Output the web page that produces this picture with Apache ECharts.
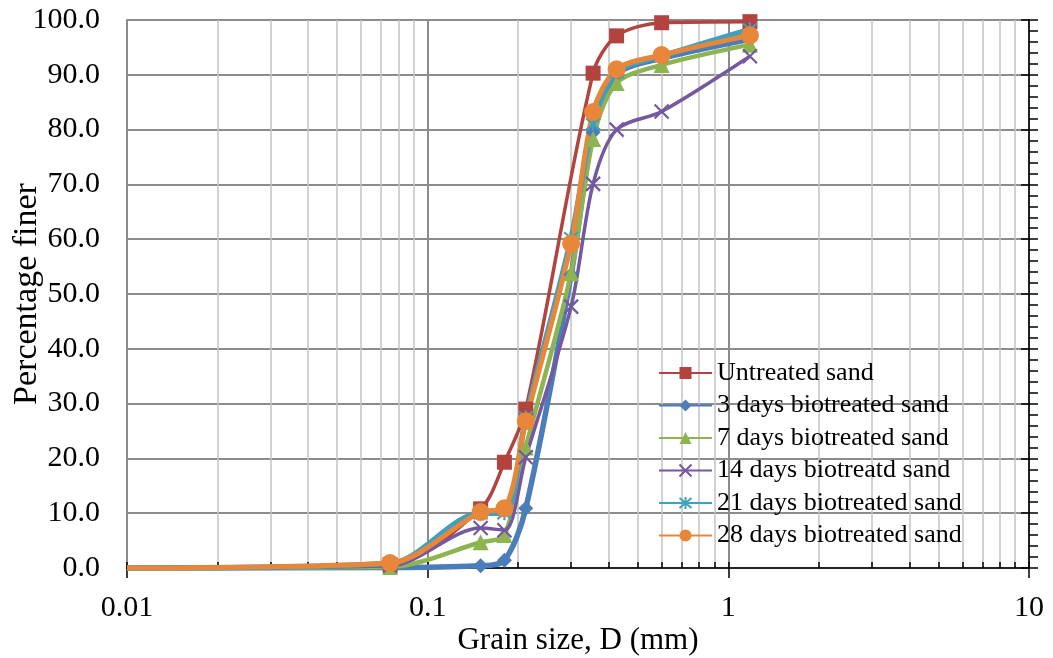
<!DOCTYPE html>
<html>
<head>
<meta charset="utf-8">
<title>Grain size distribution</title>
<script src="https://cdn.jsdelivr.net/npm/echarts@6/dist/echarts.min.js"></script>
<style>
  html, body { margin: 0; padding: 0; background: #fff; }
  #chart { width: 1053px; height: 658px; }
</style>
</head>
<body>
<div id="chart"></div>
<script>
// Sieve openings (mm) and percentage passing for each sample
const sieveSizes = [0.01, 0.075, 0.15, 0.18, 0.212, 0.3, 0.355, 0.425, 0.6, 1.18];
const untreated = [0, 0.6, 10.8, 19.3, 29.0, null, 90.3, 97.1, 99.5, 99.7];
const days3 = [0, 0.1, 0.4, 1.4, 10.9, 53.5, 79.5, 90.0, 93.0, 96.5];
const days7 = [0, 0.2, 4.7, 6.0, 22.0, 53.8, 78.3, 88.5, 91.8, 95.5];
const days14 = [0, 0.4, 7.3, 6.9, 20.2, 47.7, 70.1, 80.0, 83.3, 93.4];
const days21 = [0, 0.8, 10.0, 10.0, 27.5, 60.2, 81.0, 90.5, 93.4, 98.3];
const days28 = [0, 0.9, 10.2, 10.9, 26.8, 59.2, 83.2, 91.0, 93.6, 97.2];

const seriesNames = [
  'Untreated sand',
  '3 days biotreated sand',
  '7 days biotreated sand',
  '14 days biotreatd sand',
  '21 days biotreated sand',
  '28 days biotreated sand'
];

// Axis tick values
const decadeTicks = [0.01, 0.1, 1, 10];
const minorTicks = [];
[0.01, 0.1, 1].forEach(function (d) {
  for (let k = 2; k <= 9; k++) minorTicks.push(+(d * k).toPrecision(3));
});

const FONT = "'Liberation Serif', 'Times New Roman', serif";
const MAJOR_GRID = '#8c8c8c';
const MINOR_GRID = '#c3c3c3';

function pairs(values) {
  const out = [];
  values.forEach(function (v, i) {
    if (v === null) return;
    const item = { value: [sieveSizes[i], v] };
    if (i === 0) item.symbol = 'none';
    out.push(item);
  });
  return out;
}

const X_PATH = 'path://M0,0L10,10M10,0L0,10';
const STAR_PATH = 'path://M0,0L10,10M10,0L0,10M5,-1L5,11';

const styles = [
  { color: '#b3433f', width: 3.5, symbol: 'rect', size: 15 },
  { color: '#4a7dba', width: 5.5, symbol: 'diamond', size: 15 },
  { color: '#8db450', width: 4.5, symbol: 'triangle', size: 16 },
  { color: '#7458a0', width: 3.5, symbol: X_PATH, size: 14, stroke: 2.2 },
  { color: '#40a0c0', width: 5.5, symbol: STAR_PATH, size: 14, stroke: 2.2 },
  { color: '#e8873a', width: 5, symbol: 'circle', size: 18 }
];
const valueSets = [untreated, days3, days7, days14, days21, days28];

const series = valueSets.map(function (vals, i) {
  const s = styles[i];
  const itemStyle = { color: s.color };
  if (s.stroke) {
    itemStyle.borderColor = s.color;
    itemStyle.borderWidth = s.stroke;
  }
  return {
    name: seriesNames[i],
    type: 'line',
    xAxisIndex: 0,
    yAxisIndex: 0,
    smooth: 0.3,
    data: pairs(vals),
    symbol: s.symbol,
    symbolSize: s.size,
    showSymbol: true,
    lineStyle: { color: s.color, width: s.width },
    itemStyle: itemStyle,
    emphasis: { disabled: true },
    animation: false,
    clip: false
  };
});

const chart = echarts.init(document.getElementById('chart'), null, { renderer: 'canvas' });

chart.setOption({
  backgroundColor: '#ffffff',
  animation: false,
  textStyle: { fontFamily: FONT, color: '#000' },
  grid: {
    left: 127, right: 24, top: 20, bottom: 90,
    containLabel: false, outerBoundsMode: 'none'
  },
  legend: {
    orient: 'vertical',
    left: 653,
    top: 355,
    itemWidth: 53,
    itemHeight: 15,
    itemGap: 6.5,
    data: seriesNames,
    textStyle: { fontFamily: FONT, fontSize: 26, color: '#000', padding: [0, 0, 0, 0] },
    selectedMode: false
  },
  xAxis: [
    {
      type: 'log', logBase: 10, min: 0.01, max: 10,
      position: 'bottom',
      name: 'Grain size, D (mm)',
      nameLocation: 'middle',
      nameGap: 57,
      nameMoveOverlap: false,
      nameTextStyle: { fontFamily: FONT, fontSize: 31, color: '#000' },
      axisLine: { show: true, lineStyle: { color: '#000', width: 1.5 } },
      axisTick: { show: true, inside: false, length: 10, lineStyle: { color: '#000', width: 1.5 }, customValues: decadeTicks },
      axisLabel: {
        show: true, margin: 25, fontFamily: FONT, fontSize: 30, color: '#000',
        customValues: decadeTicks,
        formatter: function (v) { return String(+Number(v).toPrecision(3)); }
      },
      splitLine: { show: true, lineStyle: { color: MAJOR_GRID, width: 2 } },
      minorTick: { show: false },
      minorSplitLine: { show: false }
    },
    {
      type: 'log', logBase: 10, min: 0.01, max: 10,
      position: 'bottom',
      axisLine: { show: false },
      axisTick: { show: true, inside: true, length: 6, lineStyle: { color: '#000', width: 1.5 }, customValues: minorTicks },
      axisLabel: { show: false },
      splitLine: { show: true, lineStyle: { color: MINOR_GRID, width: 1.5 } }
    },
    {
      type: 'log', logBase: 10, min: 0.01, max: 10,
      position: 'bottom',
      axisLine: { show: false },
      axisTick: { show: true, inside: true, length: 6, lineStyle: { color: '#000', width: 1.5 }, customValues: decadeTicks },
      axisLabel: { show: false },
      splitLine: { show: false }
    }
  ],
  yAxis: [
    {
      type: 'value', min: 0, max: 100, interval: 10,
      position: 'left',
      name: 'Percentage finer',
      nameLocation: 'middle',
      nameGap: 83,
      nameMoveOverlap: false,
      nameTextStyle: { fontFamily: FONT, fontSize: 34, color: '#000' },
      axisLine: { show: true, lineStyle: { color: MAJOR_GRID, width: 2 } },
      axisTick: { show: false },
      axisLabel: {
        show: true, margin: 27, fontFamily: FONT, fontSize: 30, color: '#000',
        formatter: function (v) { return Number(v).toFixed(1); }
      },
      splitLine: { show: true, lineStyle: { color: MAJOR_GRID, width: 2 } }
    },
    {
      type: 'value', min: 0, max: 100, interval: 10,
      position: 'right',
      axisLine: { show: true, lineStyle: { color: '#000', width: 1.5 } },
      axisTick: { show: true, inside: false, length: 9, lineStyle: { color: '#000', width: 1.5 } },
      minorTick: { show: true, splitNumber: 5, length: 9, lineStyle: { color: '#000', width: 1.5 } },
      axisLabel: { show: false },
      splitLine: { show: false }
    },
    {
      type: 'value', min: 0, max: 100, interval: 10,
      position: 'right',
      axisLine: { show: false },
      axisTick: { show: true, inside: true, length: 8, lineStyle: { color: '#000', width: 1.5 } },
      axisLabel: { show: false },
      splitLine: { show: false }
    }
  ],
  series: series
});
</script>
</body>
</html>
